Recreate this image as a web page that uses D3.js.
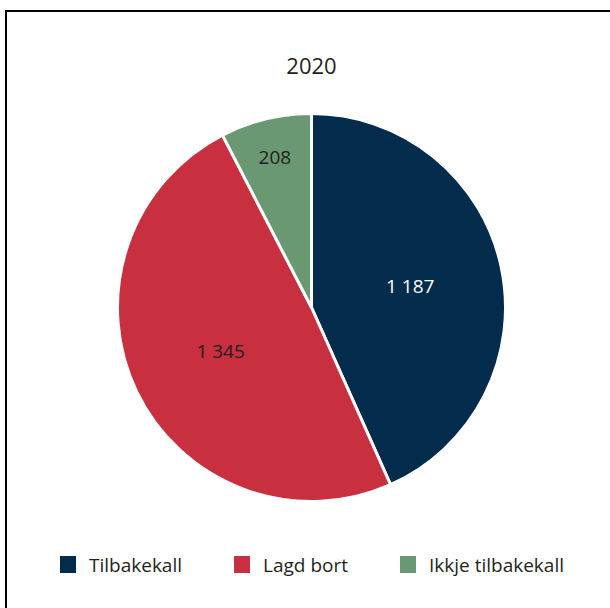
<!DOCTYPE html>
<html>
<head>
<meta charset="utf-8">
<script src="https://cdn.jsdelivr.net/npm/d3@7"></script>
<style>
  body { margin: 0; background: #fff; }
  text { font-family: "Open Sans", sans-serif; fill: #231f20; }
</style>
</head>
<body>
<svg id="my_svg"></svg>
<script>
const width = 610;
const height = 608;

// data
const title = '2020';
const categories = ['Tilbakekall', 'Lagd bort', 'Ikkje tilbakekall'];
const values = [1187, 1345, 208];
const labels = ['1 187', '1 345', '208'];
const colors = ['#022b4c', '#c82f3f', '#699872'];
const labelColors = ['#ffffff', '#231f20', '#231f20'];

const svg = d3.select('#my_svg')
    .attr('width', width)
    .attr('height', height);

// ramme (bare venstre og topp synlig)
svg.append('rect')
    .attr('x', 6)
    .attr('y', 11)
    .attr('width', 700)
    .attr('height', 700)
    .attr('fill', 'none')
    .attr('stroke', '#000')
    .attr('stroke-width', 2);

svg.append('text')
    .attr('x', 311.5)
    .attr('y', 74)
    .attr('text-anchor', 'middle')
    .style('font-size', '22px')
    .text(title);

const cx = 311.5, cy = 307.5, radius = 194;

const pie = d3.pie()
    .sort(null)
    .value(d => d.value);

const data = categories.map((c, i) => ({ name: c, value: values[i], label: labels[i], i: i }));
const arcs = pie(data);
const total = d3.sum(values);

const arc = d3.arc()
    .innerRadius(0)
    .outerRadius(radius);

const pie_g = svg.append('g')
    .attr('transform', `translate(${cx},${cy})`);

pie_g.selectAll('path')
    .data(arcs)
    .enter().append('path')
    .attr('d', arc)
    .attr('fill', d => colors[d.data.i])
    .attr('stroke', '#fff')
    .attr('stroke-width', 3)
    .attr('stroke-linejoin', 'round');

// små sektorer får etiketten lenger ut
pie_g.selectAll('text')
    .data(arcs)
    .enter().append('text')
    .attr('transform', d => {
        const f = d.data.value / total < 0.1 ? 0.8 : 0.52;
        const r = radius * f;
        const a = (d.startAngle + d.endAngle) / 2;
        return `translate(${r * Math.sin(a)},${-r * Math.cos(a)})`;
    })
    .attr('dy', '0.36em')
    .attr('text-anchor', 'middle')
    .style('font-size', '19px')
    .style('fill', d => labelColors[d.data.i])
    .text(d => d.data.label);

// legend
const legend_g = svg.append('g');
const item = legend_g.selectAll('g')
    .data(data)
    .enter().append('g');

item.append('rect')
    .attr('y', 556)
    .attr('width', 16)
    .attr('height', 17)
    .attr('fill', d => colors[d.i]);

item.append('text')
    .attr('x', 29)
    .attr('y', 572)
    .style('font-size', '19px')
    .text(d => d.name);

let x = 0;
const offsets = [];
item.each(function() {
    offsets.push(x);
    const w = d3.select(this).select('text').node().getComputedTextLength();
    x += 29 + w + 52;
});
const legendWidth = x - 52;
const x0 = 312 - legendWidth / 2;
item.attr('transform', (d, i) => `translate(${x0 + offsets[i]},0)`);
</script>
</body>
</html>
